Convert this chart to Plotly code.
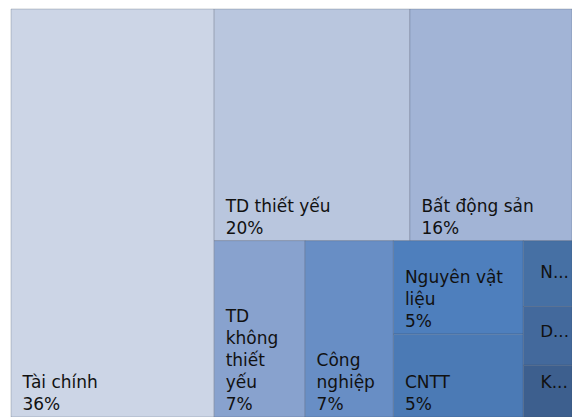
import plotly.graph_objects as go

categories = ["Tài chính", "TD thiết yếu", "Bất động sản", "TD không thiết yếu",
              "Công nghiệp", "Nguyên vật liệu", "CNTT", "N...", "D...", "K..."]
display_names = ["Tài chính", "TD thiết yếu", "Bất động sản", "TD<br>không<br>thiết<br>yếu",
                 "Công<br>nghiệp", "Nguyên vật<br>liệu", "CNTT", "N...", "D...", "K..."]
values = [36.2, 19.8, 16.4, 7.0, 6.8, 5.3, 4.7, 1.4, 1.25, 1.1]
show_percent = [True, True, True, True, True, True, True, False, False, False]
colors = ["#CCD5E6", "#B9C6DE", "#A2B4D6", "#88A2CE", "#688EC5",
          "#4E7FBD", "#4B7AB5", "#4670A4", "#43699C", "#3D5F8E"]

INDENT = "\u2009\u2009\u200a"
SMALL_INDENT = "\u00a0\u00a0\u2009"


def fmt(name, v, sp):
    if sp:
        lines = name.split("<br>") + [f"{round(v)}%"]
        return "<br>".join(INDENT + ln for ln in lines)
    return SMALL_INDENT + name + "<br>\u00a0"


texts = [fmt(n, v, sp) for n, v, sp in zip(display_names, values, show_percent)]

fig = go.Figure(go.Treemap(
    labels=categories,
    parents=[""] * len(categories),
    values=values,
    text=texts,
    texttemplate="%{text}",
    textposition="bottom left",
    textfont=dict(family="DejaVu Sans", size=17, color="#111111"),
    marker=dict(colors=colors, line=dict(width=1, color="rgba(60,70,90,0.25)"),
                pad=dict(t=0, l=0, r=0, b=0)),
    tiling=dict(packing="squarify", squarifyratio=1, pad=0),
    pathbar=dict(visible=False),
    root=dict(color="white"),
    sort=True,
    hoverinfo="label+value",
))

fig.update_layout(
    width=572, height=417,
    margin=dict(l=11, r=0, t=9, b=0),
    paper_bgcolor="white",
)

fig.write_html(
    "out.html",
    config={"displayModeBar": False},
    post_script="document.body.style.margin='0';document.body.style.overflow='hidden';",
)
